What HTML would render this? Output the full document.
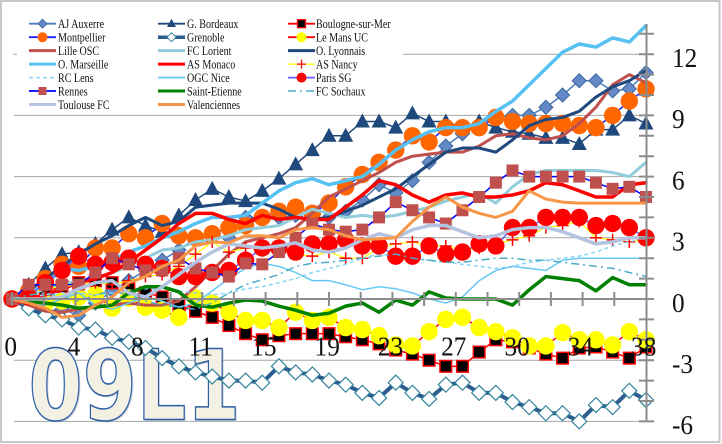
<!DOCTYPE html>
<html><head><meta charset="utf-8"><style>
html,body{margin:0;padding:0;background:#fff;overflow:hidden}
svg{display:block}
.ax{font-family:"Liberation Serif","DejaVu Serif",serif;font-size:27.5px;fill:#111}
.lg{font-family:"Liberation Serif","DejaVu Serif",serif;font-size:12.6px;fill:#111}
</style></head><body>
<svg width="722" height="444" viewBox="0 0 722 444" xmlns="http://www.w3.org/2000/svg">
<defs>
<marker id="mA" markerUnits="userSpaceOnUse" markerWidth="1" markerHeight="1" orient="0" style="overflow:visible"><g transform="scale(0.059938,-0.04902)"><path d="M0,-7L7,0L0,7L-7,0Z" fill="#6389c6" stroke="#3e679f" stroke-width="1"/></g></marker>
<marker id="mB" markerUnits="userSpaceOnUse" markerWidth="1" markerHeight="1" orient="0" style="overflow:visible"><g transform="scale(0.059938,-0.04902)"><path d="M0,-8L7.5,6L-7.5,6Z" fill="#1f497d"/></g></marker>
<marker id="mBo" markerUnits="userSpaceOnUse" markerWidth="1" markerHeight="1" orient="0" style="overflow:visible"><g transform="scale(0.059938,-0.04902)"><rect x="-5.8" y="-5.8" width="11.6" height="11.6" fill="#000" stroke="#ff0000" stroke-width="1.5"/></g></marker>
<marker id="mM" markerUnits="userSpaceOnUse" markerWidth="1" markerHeight="1" orient="0" style="overflow:visible"><g transform="scale(0.059938,-0.04902)"><circle r="8.7" fill="#ff6600"/></g></marker>
<marker id="mG" markerUnits="userSpaceOnUse" markerWidth="1" markerHeight="1" orient="0" style="overflow:visible"><g transform="scale(0.059938,-0.04902)"><path d="M0,-7.5L7.5,0L0,7.5L-7.5,0Z" fill="#fff" stroke="#31849b" stroke-width="1.2"/></g></marker>
<marker id="mLM" markerUnits="userSpaceOnUse" markerWidth="1" markerHeight="1" orient="0" style="overflow:visible"><g transform="scale(0.059938,-0.04902)"><circle r="8.7" fill="#ffff00"/></g></marker>
<marker id="mN" markerUnits="userSpaceOnUse" markerWidth="1" markerHeight="1" orient="0" style="overflow:visible"><g transform="scale(0.059938,-0.04902)"><path d="M-6,0H6M0,-6V6" stroke="#ff0000" stroke-width="1.5" fill="none"/></g></marker>
<marker id="mP" markerUnits="userSpaceOnUse" markerWidth="1" markerHeight="1" orient="0" style="overflow:visible"><g transform="scale(0.059938,-0.04902)"><circle r="8.7" fill="#ff0000"/></g></marker>
<marker id="mR" markerUnits="userSpaceOnUse" markerWidth="1" markerHeight="1" orient="0" style="overflow:visible"><g transform="scale(0.059938,-0.04902)"><rect x="-6" y="-6" width="12" height="12" fill="#c0504d"/></g></marker>
</defs>

<rect width="722" height="444" fill="#fff"/>
<rect x="1" y="1" width="718.5" height="441" fill="none" stroke="#c9c9c9" stroke-width="2"/>

<g stroke="#a6a6a6" stroke-width="1">
<line x1="13" y1="54.2" x2="646" y2="54.2"/>
<line x1="14" y1="115.4" x2="646" y2="115.4"/>
<line x1="14" y1="176.6" x2="646" y2="176.6"/>
<line x1="14" y1="237.8" x2="646" y2="237.8"/>
<line x1="14" y1="360.2" x2="646" y2="360.2"/>
<line x1="14" y1="421.4" x2="646" y2="421.4"/>
</g>

<text x="30" y="421" font-family="DejaVu Sans, Liberation Sans, sans-serif" font-weight="bold" font-size="97" textLength="212" lengthAdjust="spacingAndGlyphs" fill="#9a9a9a" opacity="0.35">09L1</text>
<text x="28.5" y="419.5" font-family="DejaVu Sans, Liberation Sans, sans-serif" font-weight="bold" font-size="97" textLength="212" lengthAdjust="spacingAndGlyphs" fill="#f3f0e4" stroke="#2b5ea7" stroke-width="1.5">09L1</text>

<g transform="matrix(16.684 0 0 -20.4 12 299)" fill="none" stroke-linejoin="round" stroke-linecap="round">
<polyline vector-effect="non-scaling-stroke" stroke="#4a7ebb" stroke-width="1.5" marker-start="url(#mA)" marker-mid="url(#mA)" marker-end="url(#mA)" points="0,0 1,-0.3 2,-0.6 3,-0.5 4,-0.8 5,-0.2 6,0.4 7,0.9 8,1.4 9,1.9 10,2.4 11,3 12,3.1 13,3 14,4 15,4 16,4 17,4.1 18,3.9 19,4 20,4.3 21,4.85 22,5.6 23,5.2 24,5.8 25,6.7 26,7.5 27,8.1 28,8.6 29,8.9 30,9 31,9 32,9.4 33,10 34,10.7 35,10.7 36,10.2 37,10.3 38,11.1"/>
<polyline vector-effect="non-scaling-stroke" stroke="#1f497d" stroke-width="1.5" marker-start="url(#mB)" marker-mid="url(#mB)" marker-end="url(#mB)" points="0,0 1,0.7 2,1.5 3,2.2 4,2.3 5,2.7 6,3.4 7,4 8,3.6 9,3.3 10,4.1 11,4.85 12,5.4 13,5 14,4.8 15,5.3 16,5.9 17,6.6 18,7.3 19,8 20,8 21,8.7 22,8.7 23,8.4 24,9.1 25,8.7 26,8.7 27,8.4 28,8.7 29,8.4 30,8.2 31,8.1 32,7.9 33,7.9 34,7.6 35,8.3 36,8.3 37,9 38,8.6"/>
<polyline vector-effect="non-scaling-stroke" stroke="#ff0000" stroke-width="1.5" marker-start="url(#mBo)" marker-mid="url(#mBo)" marker-end="url(#mBo)" points="0,0 1,0.2 2,0.4 3,0.6 4,0.8 5,0.9 6,0.8 7,0.5 8,0.3 9,0.1 10,-0.3 11,-0.6 12,-0.9 13,-1.3 14,-1.7 15,-2 16,-1.8 17,-1.7 18,-1.7 19,-1.7 20,-1.85 21,-2 22,-2.2 23,-2.5 24,-2.7 25,-3 26,-3.3 27,-3.3 28,-2.6 29,-2 30,-2.1 31,-2.4 32,-2.7 33,-2.9 34,-2.4 35,-2.35 36,-2.6 37,-2.9 38,-2.35"/>
<polyline vector-effect="non-scaling-stroke" stroke="#2020ff" stroke-width="1.5" marker-start="url(#mM)" marker-mid="url(#mM)" marker-end="url(#mM)" points="0,0 1,0.4 2,1 3,1.7 4,1.6 5,2.5 6,2.5 7,3.2 8,3 9,3.7 10,3.1 11,3 12,3.2 13,3.5 14,3.6 15,4 16,4.3 17,4.5 18,4.2 19,4.7 20,5.5 21,6.1 22,6.7 23,7.3 24,8 25,7.7 26,8.4 27,8.4 28,8.4 29,8.9 30,8.7 31,8.6 32,8.6 33,8.6 34,8.5 35,8.4 36,9 37,9.7 38,10.3"/>
<polyline vector-effect="non-scaling-stroke" stroke="#2c5d8f" stroke-width="4" marker-start="url(#mG)" marker-mid="url(#mG)" marker-end="url(#mG)" points="0,0 1,-0.45 2,-0.8 3,-1 4,-1.4 5,-1.5 6,-1.9 7,-2.1 8,-2.4 9,-2.9 10,-3.3 11,-3.6 12,-3.8 13,-4 14,-4 15,-4.1 16,-3.3 17,-3.6 18,-3.7 19,-4 20,-4.2 21,-4.6 22,-4.85 23,-4.1 24,-4.6 25,-4.9 26,-4.2 27,-4.1 28,-4.6 29,-4.6 30,-5.05 31,-5.3 32,-5.6 33,-5.6 34,-6 35,-5.2 36,-5.3 37,-4.5 38,-4.95"/>
<polyline vector-effect="non-scaling-stroke" stroke="#ff0000" stroke-width="1.5" marker-start="url(#mLM)" marker-mid="url(#mLM)" marker-end="url(#mLM)" points="0,0 1,0.2 2,-0.2 3,-0.1 4,0.1 5,0.2 6,-0.45 7,0.05 8,-0.4 9,-0.55 10,-0.9 11,0.05 12,-0.2 13,-0.65 14,-1.05 15,-1.05 16,-1.4 17,-0.65 18,-1.05 19,-0.9 20,-1.4 21,-1.5 22,-1.8 23,-2.25 24,-2.3 25,-1.6 26,-1 27,-0.9 28,-1.4 29,-1.6 30,-1.9 31,-2.3 32,-2.3 33,-1.65 34,-2 35,-2 36,-2.25 37,-1.6 38,-2"/>
<polyline vector-effect="non-scaling-stroke" stroke="#c0504d" stroke-width="3" points="0,0 1,-0.3 2,-0.6 3,-0.65 4,-0.5 5,-0.4 6,-0.3 7,-0.2 8,-0.3 9,-0.3 10,-0.1 11,0.6 12,1.4 13,2.2 14,2.8 15,3 16,3.2 17,3.5 18,4.2 19,5 20,5.4 21,5.8 22,6.2 23,6.7 24,7 25,7.1 26,7.2 27,7.2 28,7.5 29,8 30,8.1 31,7.9 32,7.8 33,8 34,8.6 35,9.4 36,10.5 37,11 38,10.6"/>
<polyline vector-effect="non-scaling-stroke" stroke="#92cddc" stroke-width="3" points="0,0 1,0.2 2,0.5 3,0.7 4,0.9 5,1 6,1.3 7,1.6 8,2 9,2.4 10,2.5 11,2.8 12,2.9 13,3.1 14,3.4 15,3.5 16,3.6 17,4 18,4.4 19,4.2 20,4 21,4.1 22,4 23,4.1 24,4.3 25,4.5 26,4.8 27,5 28,5.2 29,4.7 30,5.5 31,6.1 32,6.3 33,6.3 34,6.3 35,6.3 36,6.2 37,6 38,6.7"/>
<polyline vector-effect="non-scaling-stroke" stroke="#1f497d" stroke-width="3" points="0,0 1,0.4 2,1 3,1.6 4,2.2 5,2.7 6,3.1 7,3.6 8,4 9,3.6 10,3.8 11,4.5 12,4.6 13,4.7 14,4.7 15,4.7 16,4.4 17,4 18,3.9 19,4 20,4.3 21,4.6 22,5 23,5.4 24,6 25,6.6 26,7.2 27,7.4 28,7.4 29,7.2 30,7.8 31,8.5 32,8.8 33,8.9 34,9.2 35,9.9 36,10.4 37,10.7 38,11.2"/>
<polyline vector-effect="non-scaling-stroke" stroke="#56c1f2" stroke-width="3.5" points="0,0 1,0.3 2,0.7 3,1.5 4,1.4 5,1.6 6,1.9 7,2.3 8,2.6 9,3 10,3.3 11,3.7 12,4 13,4 14,4.1 15,4.7 16,5.3 17,5.7 18,5.9 19,5.6 20,5.8 21,6 22,6.6 23,7.3 24,7.8 25,8.2 26,8.4 27,8.4 28,8.6 29,9.2 30,9.7 31,10.5 32,11.3 33,12.1 34,12.5 35,12.35 36,12.8 37,12.6 38,13.4"/>
<polyline vector-effect="non-scaling-stroke" stroke="#ff0000" stroke-width="3.5" points="0,0 1,0 2,0.2 3,0.5 4,0.8 5,1 6,1.3 7,1.8 8,2.4 9,3 10,3.7 11,4.2 12,4.2 13,3.9 14,3.7 15,4.1 16,3.9 17,4 18,3.9 19,3.9 20,4.5 21,5.1 22,5.8 23,5.6 24,5.1 25,4.75 26,5.1 27,5.2 28,5 29,5 30,5.1 31,5.3 32,5.7 33,5.6 34,5.3 35,5 36,5 37,5.6 38,5.7"/>
<polyline vector-effect="non-scaling-stroke" stroke="#ffff00" stroke-width="1.2" marker-start="url(#mN)" marker-mid="url(#mN)" marker-end="url(#mN)" points="0,0 1,0.3 2,0.5 3,0.6 4,0.7 5,0.8 6,0.7 7,0.9 8,1.1 9,1.2 10,1.6 11,2.2 12,2.8 13,2.3 14,2.5 15,2.6 16,2.4 17,2.2 18,2.1 19,2.3 20,2 21,2 22,2.5 23,2.7 24,2.8 25,2.6 26,2.6 27,2.4 28,2.5 29,2.7 30,2.9 31,3.1 32,3.5 33,3.6 34,3.8 35,3 36,2.9 37,2.8 38,2.9"/>
<polyline vector-effect="non-scaling-stroke" stroke="#8ad4f7" stroke-width="1.5" stroke-dasharray="4,3" stroke-linecap="butt" points="0,0 1,0.1 2,0.2 3,0.3 4,0.3 5,0.2 6,0.3 7,0.4 8,0.5 9,0.5 10,0.4 11,0.3 12,0.2 13,0.3 14,0.5 15,0.6 16,0.8 17,1 18,1.3 19,1.5 20,1.7 21,2 22,2.2 23,2.1 24,2 25,1.9 26,1.8 27,1.7 28,1.6 29,1.5 30,1.6 31,1.8 32,1.9 33,2 34,2.1 35,2.3 36,2.6 37,2.8 38,3"/>
<polyline vector-effect="non-scaling-stroke" stroke="#66c8f5" stroke-width="1.5" points="0,0 1,-0.2 2,-0.3 3,0 4,0.3 5,-0.3 6,-0.5 7,-0.2 8,0.1 9,-0.1 10,-0.4 11,-0.2 12,0.4 13,1 14,1.5 15,1.75 16,1.6 17,1.3 18,0.9 19,0.9 20,0.7 21,0.45 22,0.6 23,0.5 24,0.3 25,0 26,-0.2 27,0.1 28,0.9 29,1.4 30,1.6 31,1.5 32,1.4 33,1.9 34,2 35,2 36,2 37,2 38,2"/>
<polyline vector-effect="non-scaling-stroke" stroke="#6060ff" stroke-width="1.5" marker-start="url(#mP)" marker-mid="url(#mP)" marker-end="url(#mP)" points="0,0 1,0.1 2,0.8 3,1.4 4,2.1 5,1.7 6,1.8 7,2 8,1.7 9,1.5 10,1.1 11,1.1 12,1.3 13,1.4 14,1.9 15,2.5 16,2.5 17,2.3 18,2.7 19,2.7 20,2.9 21,2.6 22,2.6 23,2.1 24,2.1 25,2.6 26,2.2 27,2.3 28,2.7 29,2.6 30,3.5 31,3.5 32,4 33,4 34,4 35,3.6 36,3.7 37,3.5 38,3"/>
<polyline vector-effect="non-scaling-stroke" stroke="#0000ff" stroke-width="1.5" marker-start="url(#mR)" marker-mid="url(#mR)" marker-end="url(#mR)" points="0,0 1,0.7 2,0.7 3,0.7 4,0.7 5,1.3 6,2 7,1.7 8,1.4 9,1.4 10,2 11,1.5 12,1.3 13,1.1 14,1.75 15,1.7 16,2.3 17,3 18,3.7 19,3.4 20,3.3 21,3.4 22,4 23,4.75 24,4.35 25,4 26,3.7 27,4.35 28,5 29,5.7 30,6.3 31,6 32,6 33,6 34,6 35,5.7 36,5.4 37,5.5 38,5"/>
<polyline vector-effect="non-scaling-stroke" stroke="#008000" stroke-width="3.5" points="0,0 1,-0.1 2,-0.2 3,-0.3 4,-0.45 5,-0.4 6,-0.3 7,0.3 8,0.6 9,0.6 10,0.35 11,-0.3 12,-0.4 13,-0.2 14,-0.05 15,-0.1 16,-0.35 17,-0.55 18,-0.8 19,-0.7 20,-0.35 21,-0.2 22,-0.65 23,-0.05 24,-0.3 25,0.35 26,0.05 27,0 28,0 29,0 30,-0.3 31,0.45 32,1.1 33,1 34,0.9 35,0.4 36,1.05 37,0.7 38,0.7"/>
<polyline vector-effect="non-scaling-stroke" stroke="#4bacc6" stroke-width="1.5" stroke-dasharray="8,4,2,4" stroke-linecap="butt" points="0,0 1,0.2 2,0.3 3,0.1 4,-0.1 5,0.2 6,0.4 7,0.2 8,-0.1 9,-0.3 10,-0.4 11,-0.5 12,-0.2 13,0.3 14,0.7 15,0.95 16,1.2 17,1.6 18,1.75 19,1.8 20,1.9 21,2 22,2.1 23,2.2 24,2 25,1.9 26,1.8 27,1.8 28,1.9 29,2 30,2 31,1.9 32,1.9 33,1.8 34,1.7 35,1.6 36,1.5 37,1.3 38,1.1"/>
<polyline vector-effect="non-scaling-stroke" stroke="#b3c3e0" stroke-width="3.5" points="0,0 1,0 2,0 3,0.1 4,0.5 5,0.8 6,0.9 7,0.3 8,0.1 9,0.6 10,1.2 11,1.8 12,2.3 13,2.7 14,2.6 15,2.5 16,2.6 17,2.75 18,2.4 19,2.3 20,2.5 21,2.9 22,3.2 23,3 24,3.4 25,3.6 26,3.6 27,3.3 28,3 29,3.1 30,3.4 31,3.5 32,3.5 33,3.3 34,3 35,2.7 36,2.8 37,3 38,3"/>
<polyline vector-effect="non-scaling-stroke" stroke="#f79646" stroke-width="3" points="0,0 1,-0.2 2,-0.45 3,-0.9 4,-0.8 5,-0.3 6,0.1 7,0.8 8,1.1 9,1.6 10,1.9 11,2.6 12,2.8 13,2.75 14,3.1 15,3.1 16,3 17,3.4 18,3.5 19,3.4 20,3.1 21,2.9 22,2.95 23,3 24,3.8 25,4.5 26,5 27,4.5 28,4.2 29,4 30,4.3 31,5.3 32,4.9 33,4.75 34,4.7 35,4.7 36,4.7 37,4.7 38,4.7"/>
</g>

<g stroke="#8c8c8c" stroke-width="2" fill="none">
<line x1="12" y1="299" x2="646.5" y2="299"/>
<line x1="646.5" y1="24" x2="646.5" y2="422"/>
<path d="M12,292V306M43.7,292V306M75.4,292V306M107.1,292V306M138.8,292V306M170.5,292V306M202.2,292V306M233.9,292V306M265.6,292V306M297.3,292V306M329,292V306M360.7,292V306M392.4,292V306M424.1,292V306M455.8,292V306M487.5,292V306M519.2,292V306M550.9,292V306M582.6,292V306M614.3,292V306"/>
<path d="M639,421.4H654M639,401H654M639,380.6H654M639,360.2H654M639,339.8H654M639,319.4H654M639,299H654M639,278.6H654M639,258.2H654M639,237.8H654M639,217.4H654M639,197H654M639,176.6H654M639,156.2H654M639,135.8H654M639,115.4H654M639,95H654M639,74.6H654M639,54.2H654M639,33.8H654"/>
</g>

<g class="ax">
<text transform="translate(672,67) scale(0.92,1)">12</text>
<text transform="translate(672,128.2) scale(0.92,1)">9</text>
<text transform="translate(672,189.4) scale(0.92,1)">6</text>
<text transform="translate(672,250.6) scale(0.92,1)">3</text>
<text transform="translate(672,311.8) scale(0.92,1)">0</text>
<text transform="translate(672,373) scale(0.92,1)">-3</text>
<text transform="translate(672,434.2) scale(0.92,1)">-6</text>
</g>
<g class="ax" text-anchor="middle">
<text transform="translate(10.7,355.5) scale(0.92,1)">0</text>
<text transform="translate(74,355.5) scale(0.92,1)">4</text>
<text transform="translate(137.3,355.5) scale(0.92,1)">8</text>
<text transform="translate(200.6,355.5) scale(0.92,1)">11</text>
<text transform="translate(263.9,355.5) scale(0.92,1)">15</text>
<text transform="translate(327.2,355.5) scale(0.92,1)">19</text>
<text transform="translate(390.5,355.5) scale(0.92,1)">23</text>
<text transform="translate(453.8,355.5) scale(0.92,1)">27</text>
<text transform="translate(517.1,355.5) scale(0.92,1)">30</text>
<text transform="translate(580.4,355.5) scale(0.92,1)">34</text>
<text transform="translate(643.7,355.5) scale(0.92,1)">38</text>
</g>

<rect x="17" y="12" width="386" height="100" fill="#fff"/>
<g fill="none">
<line x1="29" y1="23.7" x2="56" y2="23.7" stroke="#4a7ebb" stroke-width="1.8"/>
<path d="M42.5,19.2L47,23.7L42.5,28.2L38,23.7Z" fill="#6389c6" stroke="#3e679f" stroke-width="0.8"/>
<line x1="29" y1="37.2" x2="56" y2="37.2" stroke="#2020ff" stroke-width="1.8"/>
<circle cx="42.5" cy="37.2" r="5" fill="#ff6600"/>
<line x1="29" y1="50.6" x2="56" y2="50.6" stroke="#c0504d" stroke-width="3"/>
<line x1="29" y1="64.1" x2="56" y2="64.1" stroke="#56c1f2" stroke-width="3"/>
<line x1="29" y1="77.6" x2="56" y2="77.6" stroke="#8ad4f7" stroke-width="1.5" stroke-dasharray="4,3"/>
<line x1="29" y1="91" x2="56" y2="91" stroke="#0000ff" stroke-width="1.8"/>
<rect x="38.5" y="87" width="8" height="8" fill="#c0504d"/>
<line x1="29" y1="104.5" x2="56" y2="104.5" stroke="#b3c3e0" stroke-width="3"/>
<line x1="158" y1="23.7" x2="185" y2="23.7" stroke="#1f497d" stroke-width="1.8"/>
<path d="M171.5,18.7L176,27L167,27Z" fill="#1f497d"/>
<line x1="158" y1="37.2" x2="185" y2="37.2" stroke="#2c5d8f" stroke-width="3.5"/>
<path d="M171.5,32.7L176,37.2L171.5,41.7L167,37.2Z" fill="#fff" stroke="#31849b" stroke-width="1"/>
<line x1="158" y1="50.6" x2="185" y2="50.6" stroke="#92cddc" stroke-width="3"/>
<line x1="158" y1="64.1" x2="185" y2="64.1" stroke="#ff0000" stroke-width="3"/>
<line x1="158" y1="77.6" x2="185" y2="77.6" stroke="#66c8f5" stroke-width="1.8"/>
<line x1="158" y1="91" x2="185" y2="91" stroke="#008000" stroke-width="3"/>
<line x1="158" y1="104.5" x2="185" y2="104.5" stroke="#f79646" stroke-width="3"/>
<line x1="288" y1="23.7" x2="315" y2="23.7" stroke="#ff0000" stroke-width="1.8"/>
<rect x="297.5" y="19.7" width="8" height="8" fill="#000" stroke="#ff0000" stroke-width="1.3"/>
<line x1="288" y1="37.2" x2="315" y2="37.2" stroke="#ff0000" stroke-width="1.8"/>
<circle cx="301.5" cy="37.2" r="5" fill="#ffff00"/>
<line x1="288" y1="50.6" x2="315" y2="50.6" stroke="#1f497d" stroke-width="3"/>
<line x1="288" y1="64.1" x2="315" y2="64.1" stroke="#ffff00" stroke-width="1.3"/>
<path d="M297,64.1H306M301.5,59.6V68.6" stroke="#ff0000" stroke-width="1.3"/>
<line x1="288" y1="77.6" x2="315" y2="77.6" stroke="#6060ff" stroke-width="1.8"/>
<circle cx="301.5" cy="77.6" r="5" fill="#ff0000"/>
<line x1="288" y1="91" x2="315" y2="91" stroke="#4bacc6" stroke-width="1.5" stroke-dasharray="8,4,2,4"/>
</g>
<g class="lg" transform="scale(0.8,1)">
<text x="72.5" y="28">AJ Auxerre</text>
<text x="72.5" y="41.5">Montpellier</text>
<text x="72.5" y="54.9">Lille OSC</text>
<text x="72.5" y="68.4">O. Marseille</text>
<text x="72.5" y="81.9">RC Lens</text>
<text x="72.5" y="95.3">Rennes</text>
<text x="72.5" y="108.8">Toulouse FC</text>
<text x="233.75" y="28">G. Bordeaux</text>
<text x="233.75" y="41.5">Grenoble</text>
<text x="233.75" y="54.9">FC Lorient</text>
<text x="233.75" y="68.4">AS Monaco</text>
<text x="233.75" y="81.9">OGC Nice</text>
<text x="233.75" y="95.3">Saint-Etienne</text>
<text x="233.75" y="108.8">Valenciennes</text>
<text x="395" y="28">Boulogne-sur-Mer</text>
<text x="395" y="41.5">Le Mans UC</text>
<text x="395" y="54.9">O. Lyonnais</text>
<text x="395" y="68.4">AS Nancy</text>
<text x="395" y="81.9">Paris SG</text>
<text x="395" y="95.3">FC Sochaux</text>
</g>
</svg>
</body></html>
